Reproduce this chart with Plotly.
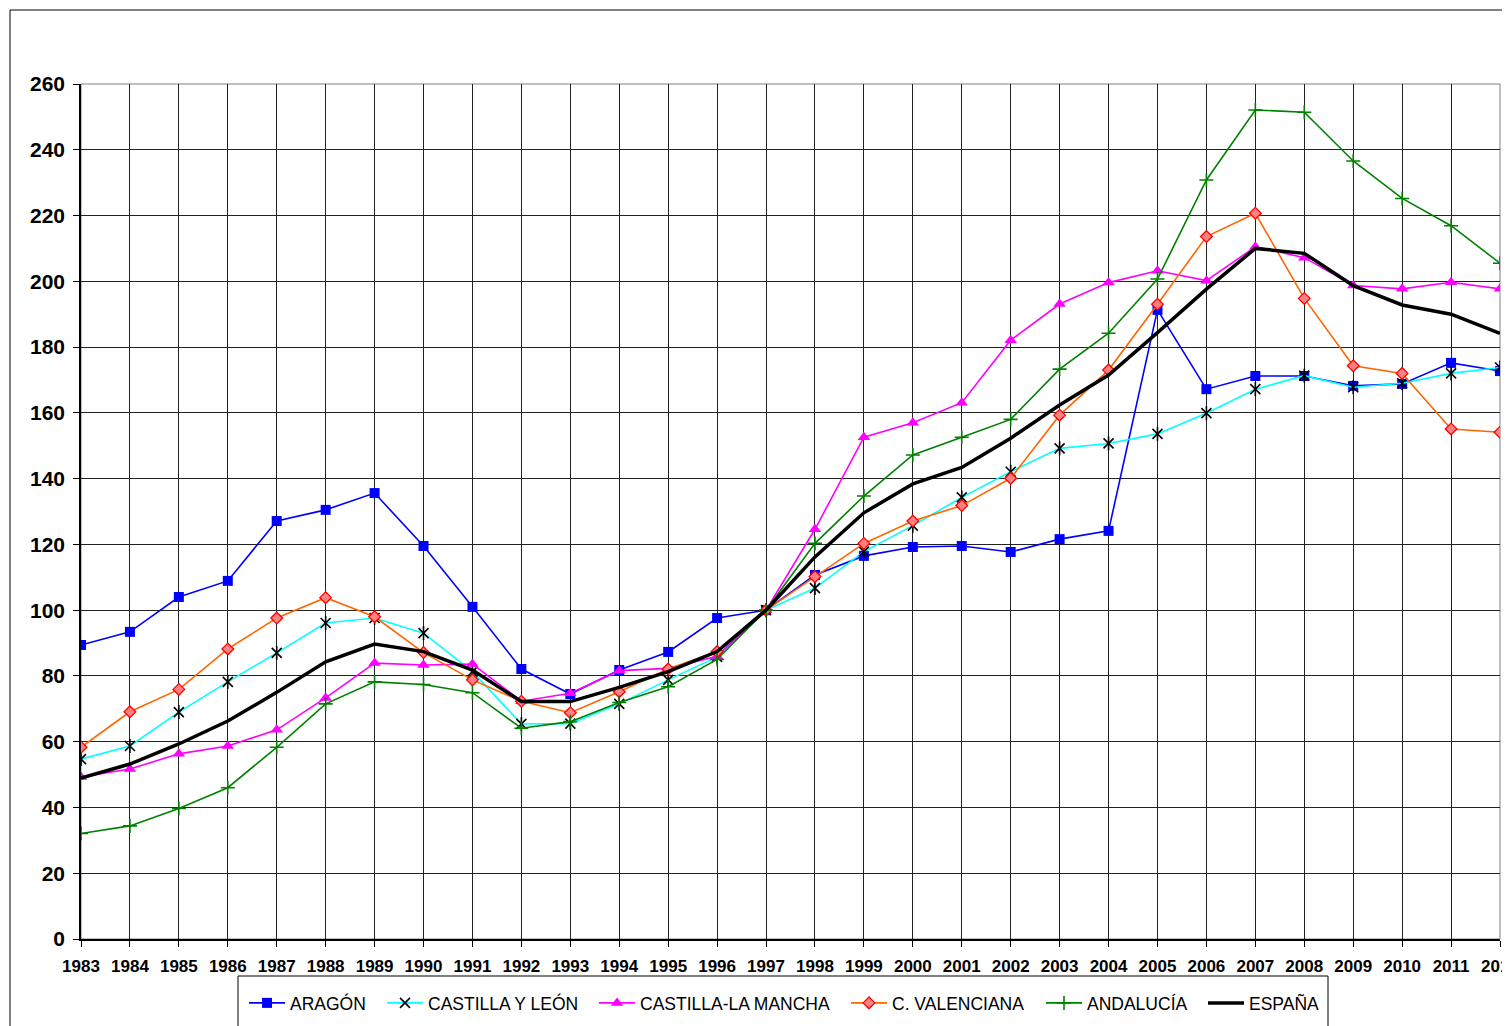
import plotly.graph_objects as go

years = list(range(1983, 2013))

aragon = [89.4, 93.4, 104.0, 108.9, 127.1, 130.5, 135.6, 119.5, 101.0, 82.1,
          74.5, 81.8, 87.3, 97.6, 100.0, 110.7, 116.5, 119.2, 119.5, 117.7,
          121.6, 124.1, 191.3, 167.2, 171.2, 171.2, 168.2, 168.8, 175.2, 172.7]
castilla_leon = [54.7, 58.7, 69.0, 78.2, 87.0, 96.1, 97.6, 93.0, 81.3, 65.4,
                 65.5, 71.5, 78.8, 85.8, 100.0, 106.7, 117.8, 125.7, 134.3, 142.1,
                 149.2, 150.7, 153.6, 159.9, 167.2, 171.3, 167.8, 169.0, 172.0, 173.8]
castilla_mancha = [49.3, 51.7, 56.3, 58.7, 63.6, 73.3, 83.9, 83.3, 83.6, 72.3,
                   74.7, 81.6, 82.3, 86.0, 100.0, 124.6, 152.6, 157.0, 163.1, 182.1,
                   193.1, 199.6, 203.2, 200.2, 210.5, 207.2, 198.7, 197.7, 199.7, 197.7]
valenciana = [58.3, 69.1, 75.9, 88.2, 97.6, 103.8, 98.0, 87.1, 78.8, 72.3,
              68.8, 75.2, 82.1, 87.4, 100.0, 110.2, 120.3, 127.1, 131.8, 140.1,
              159.3, 173.0, 193.0, 213.6, 220.7, 194.8, 174.3, 172.0, 155.1, 154.1]
andalucia = [32.1, 34.4, 39.7, 46.0, 58.3, 71.5, 78.2, 77.4, 74.9, 64.1,
             66.1, 71.9, 76.7, 85.0, 100.0, 120.3, 134.7, 147.2, 152.6, 158.0,
             173.3, 184.2, 200.7, 230.8, 252.1, 251.4, 236.6, 225.2, 216.9, 205.5]
espana = [48.9, 53.2, 59.3, 66.3, 75.0, 84.3, 89.7, 87.4, 81.8, 72.2,
          72.2, 76.5, 81.3, 87.4, 100.0, 116.2, 129.6, 138.4, 143.4, 152.3,
          162.4, 171.5, 184.4, 197.6, 210.0, 208.5, 198.7, 192.8, 190.0, 184.2]

# page has an 8px body margin: figure pixel = reference pixel - 8
OFF = 8
W, H = 1510, 1026 - OFF
L = 81 - OFF
T = 84 - OFF
R = W - (1500 - OFF)
B = H - (939 - OFF)
pw, ph = W - L - R, H - T - B


def px_x(p):
    return (p - OFF - L) / pw


def px_y(p):
    return (H - B - (p - OFF)) / ph


def cx(p):
    return (p - OFF) / W


def cy(p):
    return 1 - (p - OFF) / H


fig = go.Figure()

fig.add_trace(go.Scatter(x=years, y=aragon, name="ARAGÓN", mode="lines+markers",
                         legend="legend",
                         line=dict(color="#0000FF", width=1.6),
                         marker=dict(symbol="square", size=10, color="#0000FF")))
fig.add_trace(go.Scatter(x=years, y=castilla_leon, name="CASTILLA Y LEÓN", mode="lines+markers",
                         legend="legend2",
                         line=dict(color="#00FFFF", width=1.6),
                         marker=dict(symbol="x-thin-open", size=10, color="#000000",
                                     line=dict(color="#000000", width=1.6))))
fig.add_trace(go.Scatter(x=years, y=castilla_leon, name="CASTILLA Y LEÓN", mode="markers",
                         showlegend=False, hoverinfo="skip",
                         marker=dict(symbol="line-ns-open", size=10, color="#000000",
                                     line=dict(color="#000000", width=1.6))))
fig.add_trace(go.Scatter(x=years, y=castilla_mancha, name="CASTILLA-LA MANCHA", mode="lines+markers",
                         legend="legend3",
                         line=dict(color="#FF00FF", width=1.6),
                         marker=dict(symbol="triangle-up", size=11, color="#FF00FF")))
fig.add_trace(go.Scatter(x=years, y=valenciana, name="C. VALENCIANA", mode="lines+markers",
                         legend="legend4",
                         line=dict(color="#FF6600", width=1.6),
                         marker=dict(symbol="diamond", size=9, color="#FF8080",
                                     line=dict(color="#FF0000", width=1.3))))
fig.add_trace(go.Scatter(x=years, y=andalucia, name="ANDALUCÍA", mode="lines+markers",
                         legend="legend5",
                         line=dict(color="#008000", width=1.6),
                         marker=dict(symbol="cross-thin-open", size=10, color="#008000",
                                     line=dict(color="#008000", width=1.6))))
fig.add_trace(go.Scatter(x=years, y=espana, name="ESPAÑA", mode="lines",
                         legend="legend6",
                         line=dict(color="#000000", width=3.5)))

legend_text_x = [290, 428, 640, 892, 1087, 1249]
leg_common = dict(orientation="h", xanchor="left", yanchor="top",
                  xref="container", yref="container",
                  borderwidth=0, bgcolor="rgba(0,0,0,0)",
                  font=dict(size=17.5, family="Liberation Sans, Arial"),
                  itemwidth=36)
legends = {}
for i, tx in enumerate(legend_text_x):
    key = "legend" if i == 0 else f"legend{i + 1}"
    legends[key] = dict(leg_common, x=cx(tx - 46), y=cy(985))

fig.update_layout(
    width=W, height=H,
    margin=dict(l=L, r=R, t=T, b=B, autoexpand=False),
    paper_bgcolor="white", plot_bgcolor="white",
    font=dict(family="Liberation Sans, Arial", color="#000000"),
    showlegend=True,
    xaxis=dict(range=[1983, 2012], tickmode="linear", tick0=1983, dtick=1,
               showgrid=True, gridcolor="#222222", gridwidth=1,
               showline=True, linecolor="#000000", linewidth=1.5,
               ticks="outside", ticklen=6, tickcolor="#000000",
               ticklabeloverflow="allow", automargin=False,
               ticklabelstandoff=5,
               tickfont=dict(size=17, family="Liberation Sans, Arial", weight="bold"),
               zeroline=False),
    yaxis=dict(range=[0, 260], tickmode="linear", tick0=0, dtick=20,
               showgrid=True, gridcolor="#222222", gridwidth=1,
               showline=True, linecolor="#000000", linewidth=1.5,
               ticks="outside", ticklen=6, tickcolor="#000000",
               automargin=False, ticklabelstandoff=4,
               tickfont=dict(size=21, family="Liberation Sans, Arial", weight="bold"),
               zeroline=False),
    shapes=[
        dict(type="rect", xref="paper", yref="paper", x0=0, x1=1, y0=0, y1=1,
             line=dict(color="#808080", width=1), layer="below"),
        dict(type="rect", xref="paper", yref="paper",
             x0=px_x(10), x1=px_x(1540), y0=px_y(1060), y1=px_y(10),
             line=dict(color="#000000", width=1), layer="below"),
        dict(type="rect", xref="paper", yref="paper",
             x0=px_x(238), x1=px_x(1328), y0=px_y(1060), y1=px_y(976),
             line=dict(color="#000000", width=1), layer="below"),
    ],
    **legends,
)

fig.write_html("out.html")
